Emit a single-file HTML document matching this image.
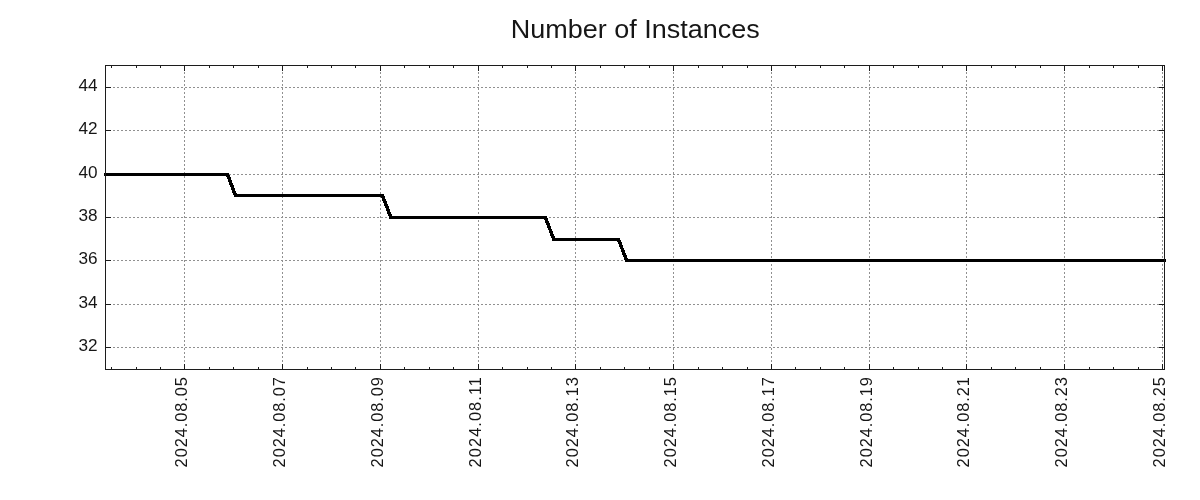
<!DOCTYPE html>
<html><head><meta charset="utf-8"><style>
html,body{margin:0;padding:0;background:#fff;width:1200px;height:500px;overflow:hidden}
svg{display:block;will-change:transform}
text{font-family:"Liberation Sans",sans-serif;fill:#161616}
</style></head><body>
<svg width="1200" height="500" viewBox="0 0 1200 500">
<rect width="1200" height="500" fill="#fff"/>
<g shape-rendering="crispEdges">
<line x1="184.5" y1="370" x2="184.5" y2="65" stroke="#909090" stroke-width="1" stroke-dasharray="2 2"/>
<line x1="282.5" y1="370" x2="282.5" y2="65" stroke="#909090" stroke-width="1" stroke-dasharray="2 2"/>
<line x1="380.5" y1="370" x2="380.5" y2="65" stroke="#909090" stroke-width="1" stroke-dasharray="2 2"/>
<line x1="478.5" y1="370" x2="478.5" y2="65" stroke="#909090" stroke-width="1" stroke-dasharray="2 2"/>
<line x1="575.5" y1="370" x2="575.5" y2="65" stroke="#909090" stroke-width="1" stroke-dasharray="2 2"/>
<line x1="673.5" y1="370" x2="673.5" y2="65" stroke="#909090" stroke-width="1" stroke-dasharray="2 2"/>
<line x1="771.5" y1="370" x2="771.5" y2="65" stroke="#909090" stroke-width="1" stroke-dasharray="2 2"/>
<line x1="869.5" y1="370" x2="869.5" y2="65" stroke="#909090" stroke-width="1" stroke-dasharray="2 2"/>
<line x1="966.5" y1="370" x2="966.5" y2="65" stroke="#909090" stroke-width="1" stroke-dasharray="2 2"/>
<line x1="1064.5" y1="370" x2="1064.5" y2="65" stroke="#909090" stroke-width="1" stroke-dasharray="2 2"/>
<line x1="1162.5" y1="370" x2="1162.5" y2="65" stroke="#909090" stroke-width="1" stroke-dasharray="2 2"/>
<line x1="105" y1="87.5" x2="1165" y2="87.5" stroke="#909090" stroke-width="1" stroke-dasharray="2 2"/>
<line x1="105" y1="130.5" x2="1165" y2="130.5" stroke="#909090" stroke-width="1" stroke-dasharray="2 2"/>
<line x1="105" y1="174.5" x2="1165" y2="174.5" stroke="#909090" stroke-width="1" stroke-dasharray="2 2"/>
<line x1="105" y1="217.5" x2="1165" y2="217.5" stroke="#909090" stroke-width="1" stroke-dasharray="2 2"/>
<line x1="105" y1="260.5" x2="1165" y2="260.5" stroke="#909090" stroke-width="1" stroke-dasharray="2 2"/>
<line x1="105" y1="304.5" x2="1165" y2="304.5" stroke="#909090" stroke-width="1" stroke-dasharray="2 2"/>
<line x1="105" y1="347.5" x2="1165" y2="347.5" stroke="#909090" stroke-width="1" stroke-dasharray="2 2"/>
<path d="M184.5 369V364M184.5 66V71M282.5 369V364M282.5 66V71M380.5 369V364M380.5 66V71M478.5 369V364M478.5 66V71M575.5 369V364M575.5 66V71M673.5 369V364M673.5 66V71M771.5 369V364M771.5 66V71M869.5 369V364M869.5 66V71M966.5 369V364M966.5 66V71M1064.5 369V364M1064.5 66V71M1162.5 369V364M1162.5 66V71M111.5 369V367M111.5 66V68M136.5 369V367M136.5 66V68M160.5 369V367M160.5 66V68M209.5 369V367M209.5 66V68M233.5 369V367M233.5 66V68M258.5 369V367M258.5 66V68M307.5 369V367M307.5 66V68M331.5 369V367M331.5 66V68M355.5 369V367M355.5 66V68M404.5 369V367M404.5 66V68M429.5 369V367M429.5 66V68M453.5 369V367M453.5 66V68M502.5 369V367M502.5 66V68M527.5 369V367M527.5 66V68M551.5 369V367M551.5 66V68M600.5 369V367M600.5 66V68M624.5 369V367M624.5 66V68M649.5 369V367M649.5 66V68M698.5 369V367M698.5 66V68M722.5 369V367M722.5 66V68M747.5 369V367M747.5 66V68M795.5 369V367M795.5 66V68M820.5 369V367M820.5 66V68M844.5 369V367M844.5 66V68M893.5 369V367M893.5 66V68M918.5 369V367M918.5 66V68M942.5 369V367M942.5 66V68M991.5 369V367M991.5 66V68M1015.5 369V367M1015.5 66V68M1040.5 369V367M1040.5 66V68M1089.5 369V367M1089.5 66V68M1113.5 369V367M1113.5 66V68M1138.5 369V367M1138.5 66V68M106 87.5H111M1164 87.5H1159M106 130.5H111M1164 130.5H1159M106 174.5H111M1164 174.5H1159M106 217.5H111M1164 217.5H1159M106 260.5H111M1164 260.5H1159M106 304.5H111M1164 304.5H1159M106 347.5H111M1164 347.5H1159" stroke="#1c1c1c" stroke-width="1" fill="none"/>
<path d="M104 173h125v1h-125zM104 174h125v1h-125zM104 175h126v1h-126zM226 176h4v1h-4zM227 177h4v1h-4zM227 178h4v1h-4zM228 179h3v1h-3zM228 180h4v1h-4zM228 181h4v1h-4zM229 182h3v1h-3zM229 183h4v1h-4zM229 184h4v1h-4zM230 185h4v1h-4zM230 186h4v1h-4zM231 187h3v1h-3zM231 188h4v1h-4zM231 189h4v1h-4zM232 190h3v1h-3zM232 191h4v1h-4zM232 192h4v1h-4zM233 193h4v1h-4zM233 194h151v1h-151zM234 195h150v1h-150zM234 196h151v1h-151zM381 197h4v1h-4zM382 198h3v1h-3zM382 199h4v1h-4zM382 200h4v1h-4zM383 201h4v1h-4zM383 202h4v1h-4zM384 203h3v1h-3zM384 204h4v1h-4zM384 205h4v1h-4zM385 206h4v1h-4zM385 207h4v1h-4zM386 208h3v1h-3zM386 209h4v1h-4zM386 210h4v1h-4zM387 211h3v1h-3zM387 212h4v1h-4zM387 213h4v1h-4zM388 214h4v1h-4zM388 215h4v1h-4zM389 216h158v1h-158zM389 217h158v1h-158zM389 218h159v1h-159zM544 219h4v1h-4zM545 220h3v1h-3zM545 221h4v1h-4zM545 222h4v1h-4zM546 223h4v1h-4zM546 224h4v1h-4zM547 225h3v1h-3zM547 226h4v1h-4zM547 227h4v1h-4zM548 228h3v1h-3zM548 229h4v1h-4zM549 230h3v1h-3zM549 231h4v1h-4zM549 232h4v1h-4zM550 233h3v1h-3zM550 234h4v1h-4zM550 235h4v1h-4zM551 236h4v1h-4zM551 237h4v1h-4zM552 238h68v1h-68zM552 239h68v1h-68zM552 240h69v1h-69zM617 241h4v1h-4zM618 242h4v1h-4zM618 243h4v1h-4zM619 244h3v1h-3zM619 245h4v1h-4zM619 246h4v1h-4zM620 247h3v1h-3zM620 248h4v1h-4zM621 249h3v1h-3zM621 250h4v1h-4zM621 251h4v1h-4zM622 252h3v1h-3zM622 253h4v1h-4zM622 254h4v1h-4zM623 255h4v1h-4zM623 256h4v1h-4zM624 257h3v1h-3zM624 258h4v1h-4zM624 259h542v1h-542zM625 260h541v1h-541zM625 261h541v1h-541z" fill="#000"/>
<rect x="105.5" y="65.5" width="1059" height="304" fill="none" stroke="#1c1c1c" stroke-width="1"/>
</g>
<text x="635.2" y="37.8" text-anchor="middle" font-size="25.2" textLength="249" lengthAdjust="spacingAndGlyphs">Number of Instances</text>
<text x="97.5" y="91" text-anchor="end" font-size="16.4" textLength="19.1" lengthAdjust="spacingAndGlyphs">44</text>
<text x="97.5" y="134" text-anchor="end" font-size="16.4" textLength="19.1" lengthAdjust="spacingAndGlyphs">42</text>
<text x="97.5" y="178" text-anchor="end" font-size="16.4" textLength="19.1" lengthAdjust="spacingAndGlyphs">40</text>
<text x="97.5" y="221" text-anchor="end" font-size="16.4" textLength="19.1" lengthAdjust="spacingAndGlyphs">38</text>
<text x="97.5" y="264" text-anchor="end" font-size="16.4" textLength="19.1" lengthAdjust="spacingAndGlyphs">36</text>
<text x="97.5" y="308" text-anchor="end" font-size="16.4" textLength="19.1" lengthAdjust="spacingAndGlyphs">34</text>
<text x="97.5" y="351" text-anchor="end" font-size="16.4" textLength="19.1" lengthAdjust="spacingAndGlyphs">32</text>
<text transform="translate(187,467.4) rotate(-90)" font-size="16.4" textLength="90.4" lengthAdjust="spacing">2024.08.05</text>
<text transform="translate(285,467.4) rotate(-90)" font-size="16.4" textLength="90.4" lengthAdjust="spacing">2024.08.07</text>
<text transform="translate(383,467.4) rotate(-90)" font-size="16.4" textLength="90.4" lengthAdjust="spacing">2024.08.09</text>
<text transform="translate(481,467.4) rotate(-90)" font-size="16.4" textLength="90.4" lengthAdjust="spacing">2024.08.11</text>
<text transform="translate(578,467.4) rotate(-90)" font-size="16.4" textLength="90.4" lengthAdjust="spacing">2024.08.13</text>
<text transform="translate(676,467.4) rotate(-90)" font-size="16.4" textLength="90.4" lengthAdjust="spacing">2024.08.15</text>
<text transform="translate(774,467.4) rotate(-90)" font-size="16.4" textLength="90.4" lengthAdjust="spacing">2024.08.17</text>
<text transform="translate(872,467.4) rotate(-90)" font-size="16.4" textLength="90.4" lengthAdjust="spacing">2024.08.19</text>
<text transform="translate(969,467.4) rotate(-90)" font-size="16.4" textLength="90.4" lengthAdjust="spacing">2024.08.21</text>
<text transform="translate(1067,467.4) rotate(-90)" font-size="16.4" textLength="90.4" lengthAdjust="spacing">2024.08.23</text>
<text transform="translate(1165,467.4) rotate(-90)" font-size="16.4" textLength="90.4" lengthAdjust="spacing">2024.08.25</text>
</svg>
</body></html>
